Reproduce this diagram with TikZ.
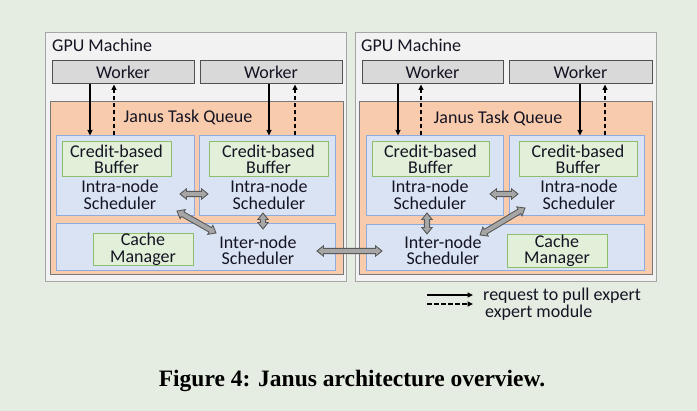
\documentclass[tikz,border=0pt]{standalone}
\usepackage{fontspec}
\setmainfont{Carlito}
\newfontfamily\capfont{Liberation Serif}
\usetikzlibrary{calc,arrows.meta}
\definecolor{bg}{RGB}{229,236,225}
\definecolor{gpufill}{RGB}{242,242,242}
\definecolor{gpudraw}{RGB}{166,166,166}
\definecolor{wfill}{RGB}{217,217,217}
\definecolor{wdraw}{RGB}{80,80,80}
\definecolor{qfill}{RGB}{248,203,173}
\definecolor{qdraw}{RGB}{120,120,120}
\definecolor{bfill}{RGB}{218,227,243}
\definecolor{bdraw}{RGB}{143,170,220}
\definecolor{gfill}{RGB}{226,240,217}
\definecolor{gdraw}{RGB}{140,190,110}
\definecolor{afill}{RGB}{166,166,166}
\definecolor{adraw}{RGB}{89,89,89}
\definecolor{txt}{RGB}{20,20,35}
\newcommand\bx[7]{\node[#6,minimum width={(#4-#2)*1pt},minimum height={(#5-#3)*1pt}] (#1) at ({(#2+#4)/2},{(#3+#5)/2}) {#7};}
\newcommand\fatarr[2]{%
  \coordinate (fa1) at (#1);
  \coordinate (fa2) at (#2);
  \coordinate (p1) at ($(fa1)!6.5pt!(fa2)$);
  \coordinate (p2) at ($(fa2)!6.5pt!(fa1)$);
  \filldraw[fill=afill,draw=adraw,line width=0.9pt,line join=miter]
    (fa1) -- ($(p1)!5.2pt!90:(fa2)$) -- ($(p1)!2.6pt!90:(fa2)$)
    -- ($(p2)!2.6pt!-90:(fa1)$) -- ($(p2)!5.2pt!-90:(fa1)$) -- (fa2)
    -- ($(p2)!5.2pt!90:(fa1)$) -- ($(p2)!2.6pt!90:(fa1)$)
    -- ($(p1)!2.6pt!-90:(fa2)$) -- ($(p1)!5.2pt!-90:(fa2)$) -- cycle;}
\begin{document}
\begin{tikzpicture}[x=1pt,y=-1pt,
  font=\fontsize{18}{16.5}\selectfont, text=txt,
  gpubox/.style={draw=gpudraw,fill=gpufill,line width=0.8pt,inner sep=0},
  worker/.style={draw=wdraw,fill=wfill,line width=1pt,inner sep=0},
  queue/.style={draw=qdraw,fill=qfill,line width=1pt,inner sep=0},
  sched/.style={draw=bdraw,fill=bfill,line width=1pt,inner sep=0},
  comp/.style={draw=gdraw,fill=gfill,line width=1pt,inner sep=0,align=center},
  lbl/.style={inner sep=0,align=center},
  req/.style={line width=1.5pt,draw=black,-{Triangle[length=5.5pt,width=5pt]}},
  mod/.style={line width=1.5pt,draw=black,dash pattern=on 4.5pt off 2.5pt,-{Triangle[length=5.5pt,width=5pt]}}]
\fill[bg] (0,0) rectangle (697,411);
\useasboundingbox (0,0) rectangle (697,411);
% ---------- left machine
\bx{gpuL}{45}{32}{346}{281}{gpubox}{}
\node[lbl,anchor=west] (gpuLt) at (52,45) {GPU Machine};
\bx{wL1}{52}{61}{194}{84}{worker}{Worker}
\bx{wL2}{200}{61}{342}{84}{worker}{Worker}
\bx{jqL}{50}{102}{343}{275}{queue}{}
\node[lbl] (jqLt) at (188,117) {Janus Task Queue};
\bx{iaL}{56}{136}{194}{216}{sched}{}
\bx{ibL}{199}{136}{335}{216}{sched}{}
\bx{inL}{56}{224}{335}{271}{sched}{}
\bx{baL}{62}{142}{171}{177}{comp}{Credit-based\\Buffer}
\bx{bbL}{209}{142}{328}{177}{comp}{Credit-based\\Buffer}
\bx{cmL}{93}{234}{193}{265}{comp}{Cache\\Manager}
\node[lbl] (iaLt) at (120,195) {Intra-node\\Scheduler};
\node[lbl] (ibLt) at (269,195) {Intra-node\\Scheduler};
\node[lbl] (inLt) at (258,250.5) {Inter-node\\Scheduler};
\draw[req] (90,0 |- wL1.south) -- (90,0 |- iaL.north);
\draw[mod] (114,0 |- iaL.north) -- (114,0 |- wL1.south);
\draw[req] (269,0 |- wL2.south) -- (269,0 |- ibL.north);
\draw[mod] (295,0 |- ibL.north) -- (295,0 |- wL2.south);
% ---------- right machine
\bx{gpuR}{355}{32}{656}{281}{gpubox}{}
\node[lbl,anchor=west] (gpuRt) at (361,45) {GPU Machine};
\bx{wR1}{362}{61}{503}{84}{worker}{Worker}
\bx{wR2}{509}{61}{652}{84}{worker}{Worker}
\bx{jqR}{359}{102}{652}{275}{queue}{}
\node[lbl] (jqRt) at (498,118) {Janus Task Queue};
\bx{iaR}{366}{136}{503}{216}{sched}{}
\bx{ibR}{509}{136}{644}{216}{sched}{}
\bx{inR}{366}{225}{644}{271}{sched}{}
\bx{baR}{372}{142}{489}{177}{comp}{Credit-based\\Buffer}
\bx{bbR}{519}{142}{637}{177}{comp}{Credit-based\\Buffer}
\bx{cmR}{507}{236}{607}{266}{comp}{Cache\\Manager}
\node[lbl] (iaRt) at (430,195) {Intra-node\\Scheduler};
\node[lbl] (ibRt) at (579,195) {Intra-node\\Scheduler};
\node[lbl] (inRt) at (443,250.5) {Inter-node\\Scheduler};
\draw[req] (398,0 |- wR1.south) -- (398,0 |- iaR.north);
\draw[mod] (421,0 |- iaR.north) -- (421,0 |- wR1.south);
\draw[req] (580,0 |- wR2.south) -- (580,0 |- ibR.north);
\draw[mod] (605,0 |- ibR.north) -- (605,0 |- wR2.south);
% ---------- fat arrows
\fatarr{180,194}{208,194}
\fatarr{177,211}{216,233}
\fatarr{263,213}{263,229}
\fatarr{317,251}{382,251}
\fatarr{490,194}{518,194}
\fatarr{427,213}{427,234}
\fatarr{525,208}{480,235}
% ---------- legend
\coordinate (l1a) at (427,295);
\coordinate (l1b) at (473,295);
\coordinate (l2a) at (427,304);
\coordinate (l2b) at (473,304);
\draw[req] (l1a) -- (l1b);
\draw[mod] (l2a) -- (l2b);
\node[lbl,anchor=west] (lt1) at (483,295.5) {request to pull expert};
\node[lbl,anchor=west] (lt2) at (485,312.5) {expert module};
% ---------- caption
\node[inner sep=0,text=black,font=\capfont\bfseries\fontsize{23.5}{26}\selectfont] (cap) at (352,381) {Figure 4: Janus architecture overview.};
\end{tikzpicture}
\end{document}
